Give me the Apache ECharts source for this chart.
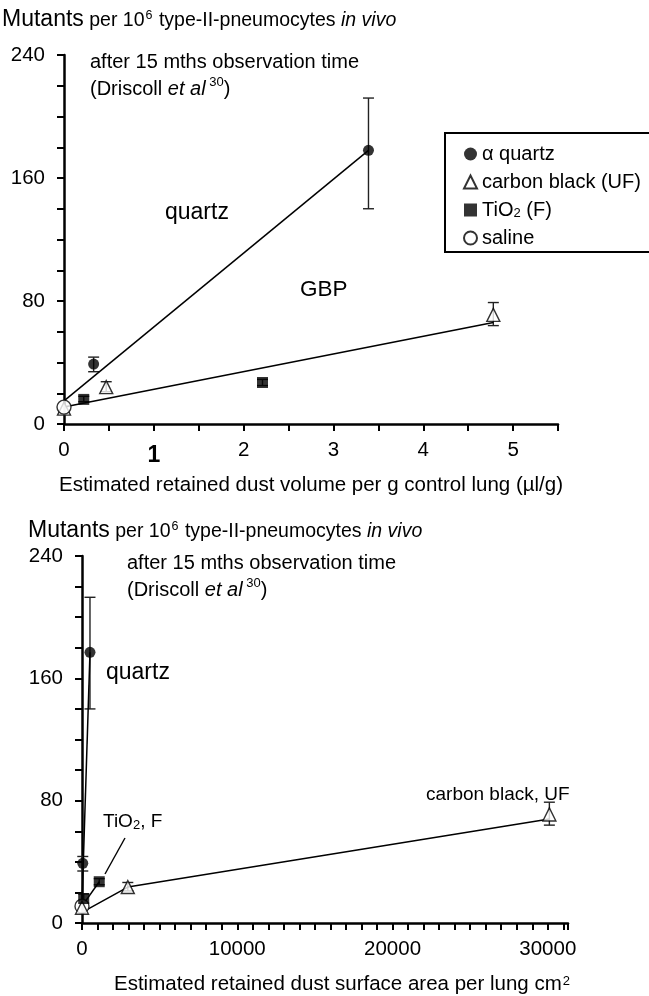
<!DOCTYPE html>
<html><head><meta charset="utf-8">
<script src="https://cdn.jsdelivr.net/npm/echarts@6/dist/echarts.min.js"></script>
<style>html,body{margin:0;padding:0;background:#fff}#c{width:649px;height:996px}</style>
</head><body><div id="c"></div>
<script>
// ---- Top panel: retained dust volume (µl/g) ----
const volTicks = [0, 1, 2, 3, 4, 5];
const mutTicks = [0, 80, 160, 240];
const volQuartzX = [0.33, 3.39];
const volQuartzY = [39, 178];
const volQuartzLo = [34, 140];
const volQuartzHi = [43.5, 212];
const volCarbonX = [0, 0.47, 4.78];
const volCarbonY = [10, 24, 71];
const volCarbonLo = [10, 21, 64];
const volCarbonHi = [10, 27.5, 79];
const volTiO2X = [0.22, 2.21];
const volTiO2Y = [16, 27];
const volTiO2Lo = [14.5, 25];
const volTiO2Hi = [18, 29];
const salineX = [0];
const salineY = [11];
const volQuartzFitX = [0, 3.39];
const volQuartzFitY = [15, 178];
const volGbpFitX = [0, 4.78];
const volGbpFitY = [11, 66];

// ---- Bottom panel: retained dust surface area (cm²) ----
const areaTicks = [0, 10000, 20000, 30000];
const areaQuartzX = [50, 514];
const areaQuartzY = [39, 177];
const areaQuartzLo = [34, 140];
const areaQuartzHi = [43.5, 213];
const areaCarbonX = [0, 2950, 30100];
const areaCarbonY = [10, 23.5, 71];
const areaCarbonLo = [10, 21, 64];
const areaCarbonHi = [10, 26.5, 79];
const areaTiO2X = [110, 1110];
const areaTiO2Y = [16, 27];
const areaTiO2Lo = [13, 25];
const areaTiO2Hi = [19, 29];
const areaQuartzFitX = [0, 514];
const areaQuartzFitY = [13, 177];
const areaTiO2FitX = [0, 1110];
const areaTiO2FitY = [11, 27];
const areaCarbonFitX = [0, 2950, 30100];
const areaCarbonFitY = [7, 23.5, 68];

const F = 'Liberation Sans, Arial, sans-serif';
const zip = (xs, ys) => xs.map((x, i) => [x, ys[i]]);

const axisBase = {
  axisLine: { onZero: false, lineStyle: { color: '#000', width: 2.5 } },
  axisTick: { show: true, length: 7, lineStyle: { color: '#000', width: 2 } },
  minorTick: { show: true, length: 7, lineStyle: { color: '#000', width: 2 } },
  splitLine: { show: false },
  minorSplitLine: { show: false }
};

function xAxis(gi, ticks, max, minorSplit, labelFmt, name, rich, namePad) {
  return Object.assign({}, axisBase, {
    type: 'value', gridIndex: gi, min: ticks[0], max: max,
    interval: ticks[1] - ticks[0],
    minorTick: Object.assign({}, axisBase.minorTick, { splitNumber: minorSplit }),
    axisLabel: { color: '#000', fontSize: 20.5, fontFamily: F, margin: 16, showMaxLabel: false,
      formatter: labelFmt, rich: rich || {} },
    name: name, nameLocation: 'middle', nameGap: 51,
    nameTextStyle: { color: '#000', fontSize: 20.5, fontFamily: F, rich: rich || {}, padding: namePad || 0 }
  });
}
function yAxis(gi) {
  return Object.assign({}, axisBase, {
    type: 'value', gridIndex: gi, min: mutTicks[0], max: mutTicks[mutTicks.length - 1],
    interval: mutTicks[1] - mutTicks[0],
    minorTick: Object.assign({}, axisBase.minorTick, { splitNumber: 4 }),
    axisLabel: { color: '#000', fontSize: 20.5, fontFamily: F, margin: 19 }
  });
}

function errSeries(xi, xs, lo, hi) {
  return {
    type: 'custom', xAxisIndex: xi, yAxisIndex: xi, silent: true, z: 1,
    encode: { x: 0, y: [1, 2] },
    data: xs.map((x, i) => [x, lo[i], hi[i]]),
    renderItem: (params, api) => {
      const x = api.value(0), l = api.value(1), h = api.value(2);
      if (l === h) return null;
      const p1 = api.coord([x, h]), p2 = api.coord([x, l]);
      const w = 5.5, st = { stroke: '#222', lineWidth: 1.4 };
      return { type: 'group', children: [
        { type: 'line', shape: { x1: p1[0], y1: p1[1], x2: p2[0], y2: p2[1] }, style: st },
        { type: 'line', shape: { x1: p1[0] - w, y1: p1[1], x2: p1[0] + w, y2: p1[1] }, style: st },
        { type: 'line', shape: { x1: p2[0] - w, y1: p2[1], x2: p2[0] + w, y2: p2[1] }, style: st }
      ] };
    }
  };
}
function fitLine(xi, xs, ys) {
  return { type: 'line', xAxisIndex: xi, yAxisIndex: xi, data: zip(xs, ys), symbol: 'none',
    silent: true, z: 2, lineStyle: { color: '#000', width: 1.5 } };
}
const styles = {
  q: { name: 'α quartz', symbol: 'circle', symbolSize: 11, itemStyle: { color: '#000' } },
  c: { name: 'carbon black (UF)', symbol: 'triangle', symbolSize: 13, itemStyle: { color: '#fff', borderColor: '#000', borderWidth: 1.4 } },
  t: { name: 'TiO2 (F)', symbol: 'rect', symbolSize: 11, itemStyle: { color: '#000' } },
  s: { name: 'saline', symbol: 'circle', symbolSize: 14, itemStyle: { color: '#fff', borderColor: '#000', borderWidth: 1.4 } }
};
function scat(xi, key, xs, ys, z) {
  return Object.assign({ type: 'scatter', xAxisIndex: xi, yAxisIndex: xi, data: zip(xs, ys), z: z || 4 }, styles[key]);
}

const supRich = {
  b: { fontSize: 23, fontWeight: 'bold', fontFamily: F, color: '#000', padding: [4, 0, 0, 0] }
};
const areaRich = {
  s: { fontSize: 13, fontFamily: F, color: '#000', verticalAlign: 'top', padding: [1, 0, 0, 1] }
};

function titleText(x, y) {
  return { type: 'text', x: x, y: y, style: {
    text: '{m|Mutants}{n| per 10}{s|6}{n| type-II-pneumocytes }{i|in vivo}',
    rich: {
      m: { fontSize: 23, fontFamily: F, fill: '#000', verticalAlign: 'bottom', lineHeight: 26 },
      n: { fontSize: 19.5, fontFamily: F, fill: '#000', verticalAlign: 'bottom', lineHeight: 26 },
      i: { fontSize: 19.5, fontFamily: F, fill: '#000', fontStyle: 'italic', verticalAlign: 'bottom', lineHeight: 26 },
      s: { fontSize: 12.5, fontFamily: F, fill: '#000', verticalAlign: 'top', lineHeight: 26, padding: [4, 1, 0, 1] }
    } } };
}
function noteText(x, y) {
  return [
    { type: 'text', x: x, y: y, style: { text: 'after 15 mths observation time', fontSize: 20, fontFamily: F, fill: '#000', verticalAlign: 'middle' } },
    { type: 'text', x: x, y: y + 11, style: {
      text: '{n|(Driscoll }{i|et al}{s| 30}{n|)}',
      rich: {
        n: { fontSize: 20, fontFamily: F, fill: '#000', verticalAlign: 'bottom', lineHeight: 26 },
        i: { fontSize: 20, fontFamily: F, fill: '#000', fontStyle: 'italic', verticalAlign: 'bottom', lineHeight: 26 },
        s: { fontSize: 13, fontFamily: F, fill: '#000', verticalAlign: 'top', lineHeight: 26, padding: [3, 0, 0, 0] }
      } } }
  ];
}
function label(x, y, t, size) {
  return { type: 'text', x: x, y: y, style: { text: t, fontSize: size, fontFamily: F, fill: '#000', verticalAlign: 'middle' } };
}

const chart = echarts.init(document.getElementById('c'), null, { renderer: 'canvas' });
chart.setOption({
  backgroundColor: '#fff',
  animation: false,
  grid: [
    { left: 64, top: 55, width: 494, height: 369 },
    { left: 82, top: 556, width: 486, height: 369 }
  ],
  xAxis: [
    xAxis(0, volTicks, 5.5, 2, v => (v === 1 ? '{b|1}' : String(v)),
      'Estimated retained dust volume per g control lung (µl/g)', supRich),
    xAxis(1, areaTicks, 31300, 10, v => String(v),
      'Estimated retained dust surface area per lung cm{s|2}', areaRich, [0, 0, 0, 34])
  ],
  yAxis: [yAxis(0), yAxis(1)],
  legend: {
    data: ['α quartz', 'carbon black (UF)', 'TiO2 (F)', 'saline'],
    orient: 'vertical', left: 463, top: 144, padding: 0,
    itemWidth: 13, itemHeight: 13, itemGap: 8,
    selectedMode: false,
    formatter: n => (n === 'TiO2 (F)' ? 'TiO{s|2} (F)' : n),
    textStyle: { color: '#000', fontSize: 20, fontFamily: F, lineHeight: 20,
      rich: { s: { fontSize: 13, fontFamily: F, color: '#000', verticalAlign: 'bottom', lineHeight: 20 } } }
  },
  graphic: [
    { type: 'rect', shape: { x: 445, y: 133, width: 230, height: 119 }, style: { fill: 'none', stroke: '#000', lineWidth: 2 } },
    titleText(2, 5),
    titleText(28, 516),
    ...noteText(90, 62),
    ...noteText(127, 563),
    label(165, 213, 'quartz', 23),
    label(300, 290, 'GBP', 22.5),
    label(106, 673, 'quartz', 23),
    label(426, 795, 'carbon black, UF', 19),
    { type: 'text', x: 103, y: 822, style: {
      text: 'TiO{s|2}{n|, F}',
      fontSize: 19, fontFamily: F, fill: '#000', verticalAlign: 'middle',
      rich: { s: { fontSize: 13, fontFamily: F, fill: '#000', verticalAlign: 'bottom', lineHeight: 20 },
              n: { fontSize: 19, fontFamily: F, fill: '#000' } } } },
    { type: 'line', shape: { x1: 105, y1: 874, x2: 125, y2: 838 }, style: { stroke: '#000', lineWidth: 1.4 } }
  ],
  series: [
    fitLine(0, volQuartzFitX, volQuartzFitY),
    fitLine(0, volGbpFitX, volGbpFitY),
    errSeries(0, volQuartzX, volQuartzLo, volQuartzHi),
    errSeries(0, volCarbonX, volCarbonLo, volCarbonHi),
    errSeries(0, volTiO2X, volTiO2Lo, volTiO2Hi),
    scat(0, 'c', volCarbonX, volCarbonY),
    scat(0, 't', volTiO2X, volTiO2Y),
    scat(0, 'q', volQuartzX, volQuartzY),
    scat(0, 's', salineX, salineY, 5),

    fitLine(1, areaQuartzFitX, areaQuartzFitY),
    fitLine(1, areaTiO2FitX, areaTiO2FitY),
    fitLine(1, areaCarbonFitX, areaCarbonFitY),
    errSeries(1, areaQuartzX, areaQuartzLo, areaQuartzHi),
    errSeries(1, areaCarbonX, areaCarbonLo, areaCarbonHi),
    errSeries(1, areaTiO2X, areaTiO2Lo, areaTiO2Hi),
    scat(1, 's', salineX, salineY, 3),
    scat(1, 'c', areaCarbonX, areaCarbonY),
    scat(1, 't', areaTiO2X, areaTiO2Y, 5),
    scat(1, 'q', areaQuartzX, areaQuartzY, 5)
  ]
});
</script>
</body></html>
